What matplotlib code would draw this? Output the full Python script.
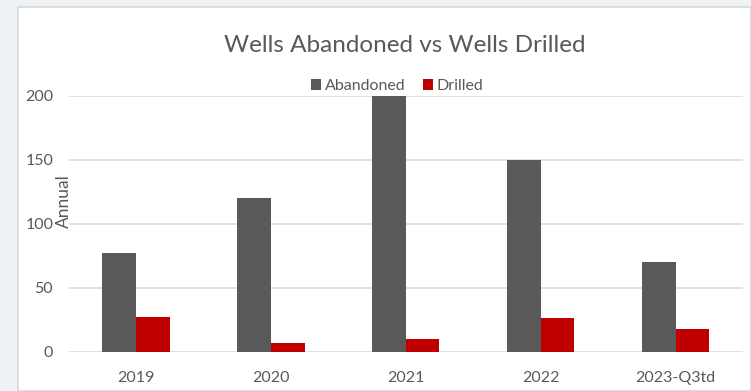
import matplotlib
matplotlib.use("Agg")
import matplotlib.pyplot as plt
from matplotlib.patches import Rectangle
import numpy as np

categories = ["2019", "2020", "2021", "2022", "2023-Q3td"]
abandoned = [77, 120, 200, 150, 70]
drilled = [27, 7, 10, 26, 18]

plt.rcParams["font.family"] = ["Lato", "DejaVu Sans"]
text_col = "#595959"
grid_col = "#d9d9d9"

W, H = 751, 391
fig = plt.figure(figsize=(W / 100, H / 100), dpi=100)
fig.patch.set_facecolor("#eef2f5")

# white chart panel, kept behind the axes
fig.patches.append(Rectangle((18 / W, 0), (W - 18) / W, (H - 7) / H,
                             transform=fig.transFigure, facecolor="white",
                             edgecolor="#d6d9dc", linewidth=1.2, zorder=-10))

x0, x1 = 68.5, 743
y0, y1 = 351.7, 95.7
ax = fig.add_axes([x0 / W, (H - y0) / H, (x1 - x0) / W, (y0 - y1) / H])
ax.set_facecolor("none")

x = np.arange(len(categories))
w = 0.25
ax.bar(x - w / 2, abandoned, w, color="#595959", label="Abandoned", zorder=3)
ax.bar(x + w / 2, drilled, w, color="#c00000", label="Drilled", zorder=3)

ax.set_xlim(-0.5, len(categories) - 0.5)
ax.set_ylim(0, 200)
ax.set_yticks([0, 50, 100, 150, 200])
ax.yaxis.grid(True, color=grid_col, linewidth=1.2, zorder=0)
ax.set_axisbelow(True)
ax.set_xticks(x)
ax.set_xticklabels(categories)
ax.tick_params(axis="both", length=0, labelsize=11.5, labelcolor=text_col)
ax.tick_params(axis="y", pad=11)
ax.tick_params(axis="x", pad=14)
for s in ax.spines.values():
    s.set_visible(False)

ax.set_ylabel("Annual", fontsize=12.5, color=text_col)
ax.yaxis.set_label_coords(0.005, 0.59)

fig.text(405 / W, 1 - 46 / H, "Wells Abandoned vs Wells Drilled",
         ha="center", va="center", fontsize=17.5, color=text_col)

ax.legend(loc="center", bbox_to_anchor=(397 / W, 1 - 86 / H),
          bbox_transform=fig.transFigure, ncol=2, frameon=False,
          fontsize=11.5, labelcolor=text_col, handlelength=0.65,
          handleheight=0.65, handletextpad=0.2, columnspacing=1.1)

fig.savefig("out.png", dpi=100, facecolor=fig.get_facecolor())
